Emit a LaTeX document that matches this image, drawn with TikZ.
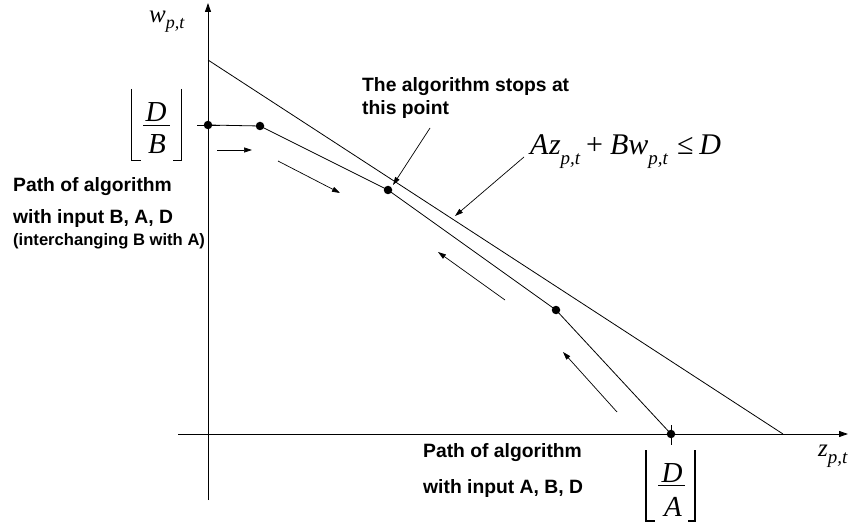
\documentclass[tikz,border=0pt]{standalone}
\usepackage{fontspec}
\setmainfont{Liberation Sans}
\newfontfamily\tnr{Liberation Serif}
\usetikzlibrary{arrows.meta}
\newcommand{\msub}[3]{\raisebox{-#1pt}{\fontsize{#2}{#2}\selectfont\itshape #3}}
\begin{document}
\begin{tikzpicture}[x=1pt,y=-1pt,
  ln/.style={line width=0.8pt},
  brk/.style={line width=1.1pt},
  axis/.style={line width=0.9pt,-{Triangle[length=9pt,width=6pt]}},
  arr/.style={line width=0.7pt,-{Triangle[length=8pt,width=5pt]}},
  dot/.style={circle,fill,inner sep=0pt,minimum size=8.5pt},
  lbl/.style={font=\fontsize{19.3}{22}\selectfont\bfseries,anchor=base west,inner sep=0pt},
  lbls/.style={font=\fontsize{16.6}{20}\selectfont\bfseries,anchor=base west,inner sep=0pt},
  frac/.style={font=\tnr\itshape\fontsize{29}{29}\selectfont,anchor=base,inner sep=0pt},
  mlab/.style={font=\tnr\fontsize{25}{25}\selectfont,anchor=base west,inner sep=0pt}
]
\useasboundingbox (0,0) rectangle (864,529);
% axes
\coordinate (yb) at (208,500);
\coordinate (yt) at (208,3);
\coordinate (xl) at (178,434);
\coordinate (xr) at (848,434);
\draw[axis] (yb) -- (yt);
\draw[axis] (xl) -- (xr);
% constraint line
\coordinate (c0) at (208,60);
\coordinate (c1) at (783,434);
\draw[ln] (c0) -- (c1);
% ticks
\draw[ln] (197,125) -- (220,125);
\draw[ln] (671,425) -- (671,445);
% path points
\node[dot] (p0) at (208,125) {};
\node[dot] (p1) at (260,126) {};
\node[dot] (p2) at (388,190) {};
\node[dot] (p3) at (556,310) {};
\node[dot] (p4) at (671,434) {};
\draw[ln] (p0.center) -- (p1.center) -- (p2.center) -- (p3.center) -- (p4.center);
% direction arrows
\coordinate (a1s) at (217,150); \coordinate (a1e) at (252,150);
\coordinate (a2s) at (278,161); \coordinate (a2e) at (340,193);
\coordinate (a3s) at (505,300); \coordinate (a3e) at (438,252);
\coordinate (a4s) at (617,412); \coordinate (a4e) at (563,352);
\draw[arr] (a1s) -- (a1e);
\draw[arr] (a2s) -- (a2e);
\draw[arr] (a3s) -- (a3e);
\draw[arr] (a4s) -- (a4e);
% pointer arrows
\coordinate (s0) at (430,128); \coordinate (s1) at (393,185);
\draw[arr] (s0) -- (s1);
\coordinate (k0) at (524,157); \coordinate (k1) at (455,216);
\draw[arr] (k0) -- (k1);
% axis labels
\node[mlab] (wlab) at (149,23) {\itshape w\msub{6}{18}{p,t}};
\node[mlab] (zlab) at (818,456) {\itshape z\msub{7}{19}{p,t}};
% constraint label
\node[font=\tnr\fontsize{30}{30}\selectfont,anchor=base west,inner sep=0pt] (cons) at (530,155)
  {\itshape A\kern0.5pt z\msub{10}{19}{p,t}\upshape\hspace{6pt}+\hspace{7pt}\itshape Bw\msub{10}{19}{p,t}\upshape\hspace{9pt}≤\hspace{6pt}\itshape D};
% floor D/B
\draw[ln] (143,125) -- (170,125);
\node[frac] (dbn) at (156,121.5) {D};
\node[frac] (dbd) at (157,153.3) {B};
\draw[brk] (131.5,89) -- (131.5,160.7) -- (141,160.7);
\draw[brk] (181.7,89) -- (181.7,160.7) -- (172.7,160.7);
% floor D/A
\draw[ln] (658,485.7) -- (685,485.7);
\node[frac] (dan) at (672,482.7) {D};
\node[frac] (dad) at (673,516) {A};
\draw[brk] (646,450) -- (646,521) -- (655,521);
\draw[brk] (695,450) -- (695,521) -- (688,521);
% texts
\node[lbl] (stop1) at (362,91.7) {The algorithm stops at};
\node[lbl] (stop2) at (362,114.3) {this point};
\node[lbl] (l1) at (13,191.7) {Path of algorithm};
\node[lbl] (l2) at (13,223.3) {with input B, A, D};
\node[lbls] (l3) at (13,246) {(interchanging B with A)};
\node[lbl] (b1) at (423,457) {Path of algorithm};
\node[lbl] (b2) at (423,493) {with input A, B, D};
\end{tikzpicture}
\end{document}
